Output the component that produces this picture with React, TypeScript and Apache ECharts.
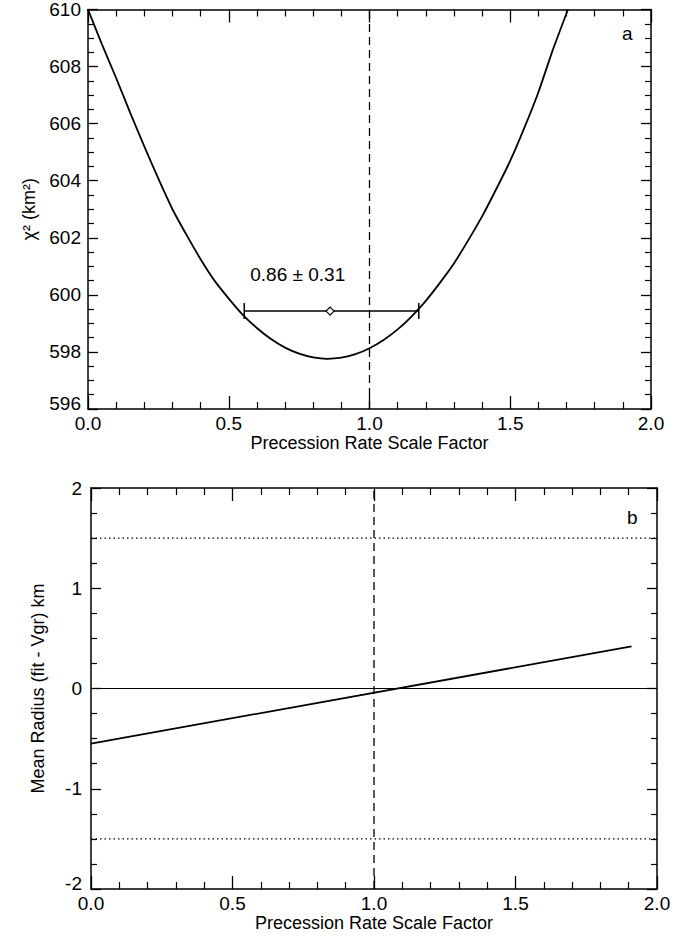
import React, { useEffect, useRef } from "react";
import * as echarts from "echarts";

// Panel a: chi-square curve vs precession rate scale factor
const chiX = [
  0.0, 0.05, 0.1, 0.15, 0.2, 0.25, 0.3, 0.35, 0.4, 0.45, 0.5, 0.55, 0.6, 0.65, 0.7, 0.75, 0.8, 0.85,
  0.9, 0.95, 1.0, 1.05, 1.1, 1.15, 1.2, 1.25, 1.3, 1.35, 1.4, 1.45, 1.5, 1.55, 1.6, 1.65, 1.705,
];
const chiY = [
  610.0, 608.77, 607.6, 606.38, 605.2, 604.07, 603.0, 602.1, 601.25, 600.49, 599.87, 599.3, 598.84, 598.45,
  598.15, 597.94, 597.81, 597.76, 597.8, 597.92, 598.13, 598.42, 598.79, 599.25, 599.79, 600.42, 601.1,
  601.9, 602.75, 603.7, 604.7, 605.85, 607.1, 608.55, 610.0,
];

// best fit with 1-sigma error
const bestFit = 0.86;
const bestSigma = 0.31;
const errLevel = 599.43;
const errLeft = 0.555;
const errRight = 1.175;
const fitLabel = "0.86 ± 0.31";
const fitLabelPos = [0.745, 600.7];

// Panel b: mean radius difference line
const radiusX = [0.0, 1.91];
const radiusY = [-0.55, 0.42];
const zeroLine = [0, 0];
const dottedLevels = [1.5, -1.5];

const xTicks = ["0.0", "0.5", "1.0", "1.5", "2.0"];
const refX = 1.0;

const FONT = "Liberation Sans";

export default function App() {
  const ref = useRef<HTMLDivElement>(null);
  useEffect(() => {
    if (!ref.current) return;
    const chart = echarts.init(ref.current, undefined, { renderer: "svg" });

    const axisLine = { show: true, onZero: false, lineStyle: { color: "#000", width: 1.5 } };
    const xTick = { show: true, inside: true, length: 13, lineStyle: { color: "#000", width: 1.3 } };
    const xMinor = { show: true, splitNumber: 5, length: 7, lineStyle: { color: "#000", width: 1.2 } };
    const yTick = { show: true, inside: true, length: 10, lineStyle: { color: "#000", width: 1.3 } };
    const yMinor = { show: true, splitNumber: 4, length: 6, lineStyle: { color: "#000", width: 1.2 } };
    const labelStyle = { color: "#000", fontFamily: FONT, fontSize: 19 };
    const nameStyle = { color: "#000", fontFamily: FONT, fontSize: 18 };

    const xAxisBottom = (gridIndex: number, margin: number, nameGap: number) => ({
      type: "value",
      gridIndex,
      position: "bottom",
      min: 0,
      max: 2,
      interval: 0.5,
      axisLine,
      axisTick: xTick,
      minorTick: xMinor,
      splitLine: { show: false },
      axisLabel: {
        ...labelStyle,
        margin,
        formatter: (v: number) => xTicks[Math.round(v / 0.5)] ?? "",
      },
      name: "Precession Rate Scale Factor",
      nameLocation: "middle",
      nameGap,
      nameTextStyle: { ...nameStyle },
    });
    const xAxisTop = (gridIndex: number) => ({
      type: "value",
      gridIndex,
      position: "top",
      min: 0,
      max: 2,
      interval: 0.5,
      axisLine,
      axisTick: xTick,
      minorTick: xMinor,
      splitLine: { show: false },
      axisLabel: { show: false },
    });
    const yAxisPair = (gridIndex: number, min: number, max: number, interval: number, name: string, nameGap: number, margin: number) => [
      {
        type: "value",
        gridIndex,
        position: "left",
        min,
        max,
        interval,
        axisLine,
        axisTick: yTick,
        minorTick: yMinor,
        splitLine: { show: false },
        axisLabel: {
          ...labelStyle,
          margin,
          formatter: (v: number) => (v === min ? `{lo|${v}}` : `${v}`),
          rich: { lo: { fontFamily: FONT, fontSize: 19, color: "#000", padding: [0, 0, 12, 0] } },
        },
        name,
        nameLocation: "middle",
        nameGap,
        nameRotate: 90,
        nameTextStyle: { ...nameStyle },
      },
      {
        type: "value",
        gridIndex,
        position: "right",
        min,
        max,
        interval,
        axisLine,
        axisTick: yTick,
        minorTick: yMinor,
        splitLine: { show: false },
        axisLabel: { show: false },
      },
    ];

    const series: any[] = [];
    // Panel a
    series.push({
      type: "line",
      xAxisIndex: 0,
      yAxisIndex: 0,
      data: chiX.map((x, i) => [x, chiY[i]]),
      smooth: 0.2,
      showSymbol: false,
      lineStyle: { color: "#000", width: 1.8 },
    });
    series.push({
      type: "line",
      xAxisIndex: 0,
      yAxisIndex: 0,
      data: [[refX, 596], [refX, 610]],
      showSymbol: false,
      lineStyle: { color: "#000", width: 1.3, type: [8, 5] },
    });
    series.push({
      type: "line",
      xAxisIndex: 0,
      yAxisIndex: 0,
      data: [[errLeft, errLevel], [errRight, errLevel]],
      showSymbol: false,
      lineStyle: { color: "#000", width: 1.5 },
    });
    series.push({
      type: "scatter",
      xAxisIndex: 0,
      yAxisIndex: 0,
      data: [[errLeft, errLevel], [errRight, errLevel]],
      symbol: "rect",
      symbolSize: [1.5, 16],
      itemStyle: { color: "#000", opacity: 1 },
    });
    series.push({
      type: "scatter",
      xAxisIndex: 0,
      yAxisIndex: 0,
      data: [[bestFit, errLevel]],
      symbol: "diamond",
      symbolSize: 8,
      itemStyle: { color: "#fff", borderColor: "#000", borderWidth: 1.2, opacity: 1 },
      z: 5,
    });
    series.push({
      type: "scatter",
      xAxisIndex: 0,
      yAxisIndex: 0,
      data: [fitLabelPos],
      symbolSize: 0,
      itemStyle: { opacity: 1 },
      label: {
        show: true,
        position: "inside",
        formatter: fitLabel,
        color: "#000",
        fontFamily: FONT,
        fontSize: 19,
      },
    });

    // Panel b
    series.push({
      type: "line",
      xAxisIndex: 2,
      yAxisIndex: 2,
      data: radiusX.map((x, i) => [x, radiusY[i]]),
      showSymbol: false,
      lineStyle: { color: "#000", width: 1.8 },
    });
    series.push({
      type: "line",
      xAxisIndex: 2,
      yAxisIndex: 2,
      data: [[0, zeroLine[0]], [2, zeroLine[1]]],
      showSymbol: false,
      lineStyle: { color: "#000", width: 1.2 },
    });
    dottedLevels.forEach((lv) => {
      series.push({
        type: "line",
        xAxisIndex: 2,
        yAxisIndex: 2,
        data: [[0, lv], [2, lv]],
        showSymbol: false,
        lineStyle: { color: "#000", width: 1.2, type: [1.5, 3] },
      });
    });
    series.push({
      type: "line",
      xAxisIndex: 2,
      yAxisIndex: 2,
      data: [[refX, -2], [refX, 2]],
      showSymbol: false,
      lineStyle: { color: "#000", width: 1.3, type: [8, 5] },
    });

    chart.setOption({
      animation: false,
      backgroundColor: "#fff",
      textStyle: { fontFamily: FONT },
      grid: [
        { left: 88, top: 9, width: 563, height: 400 },
        { left: 91, top: 488, width: 566, height: 401 },
      ],
      xAxis: [xAxisBottom(0, 5, 20), xAxisTop(0), xAxisBottom(1, 5, 24), xAxisTop(1)],
      yAxis: [
        ...yAxisPair(0, 596, 610, 2, "χ² (km²)", 50, 7),
        ...yAxisPair(1, -2, 2, 1, "Mean Radius (fit - Vgr) km", 44, 9),
      ],
      series,
      graphic: [
        {
          type: "text",
          left: 622,
          top: 24,
          style: { text: "a", fill: "#000", font: `19px ${FONT}` },
        },
        {
          type: "text",
          left: 627,
          top: 508,
          style: { text: "b", fill: "#000", font: `19px ${FONT}` },
        },
      ],
    });
    return () => chart.dispose();
  }, []);

  return (
    <div
      ref={ref}
      style={{ position: "fixed", left: 0, top: 0, width: 686, height: 942, background: "#fff" }}
    />
  );
}
